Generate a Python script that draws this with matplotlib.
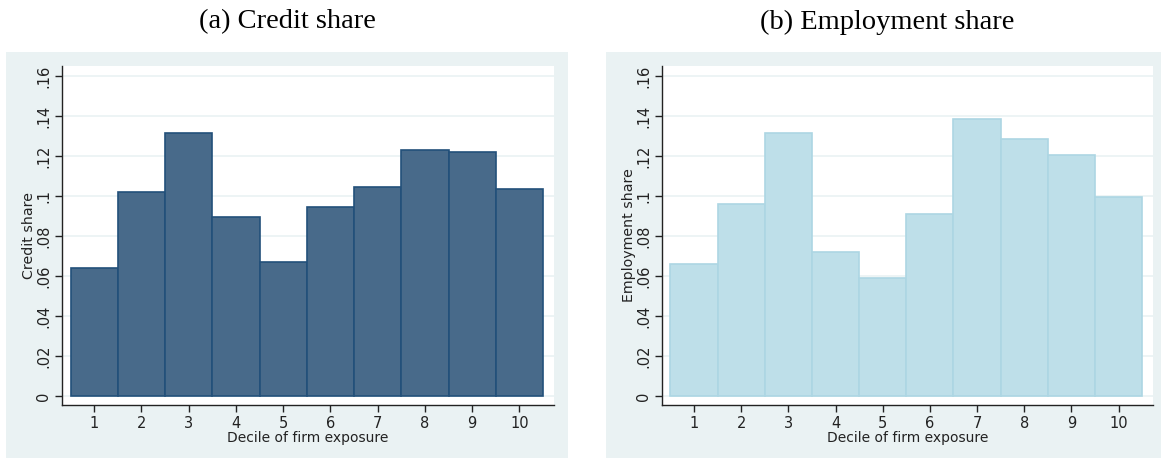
import matplotlib
matplotlib.use("Agg")
import matplotlib.pyplot as plt
from matplotlib.patches import Rectangle
from matplotlib.ticker import FuncFormatter

# data
deciles = [1, 2, 3, 4, 5, 6, 7, 8, 9, 10]
credit_share = [0.064, 0.102, 0.1315, 0.0895, 0.067, 0.0945, 0.1045, 0.123, 0.122, 0.1035]
employment_share = [0.066, 0.096, 0.1315, 0.072, 0.059, 0.091, 0.1385, 0.1285, 0.1205, 0.0995]
y_ticks = [0, 0.02, 0.04, 0.06, 0.08, 0.10, 0.12, 0.14, 0.16]

W, H = 1161, 458
BG = "#EAF2F3"


def stata_fmt(v, pos):
    s = f"{v:.2f}".rstrip("0").rstrip(".")
    if s.startswith("0."):
        s = s[1:]
    return s


fig = plt.figure(figsize=(W / 100, H / 100), dpi=100)
fig.patch.set_facecolor("white")

# outer panel backgrounds (Stata graph region)
for x0, x1 in [(6, 568), (606, 1161)]:
    fig.patches.append(Rectangle((x0 / W, 0), (x1 - x0) / W, (H - 52) / H,
                                 transform=fig.transFigure, facecolor=BG,
                                 edgecolor="none", zorder=-10))

panels = [
    (62, 554, credit_share, "#486A8A", "#22507A", "Credit share", "(a) Credit share", 287),
    (662, 1153, employment_share, "#BEDFE9", "#ADD6E3", "Employment share", "(b) Employment share", 887),
]

for x0, x1, vals, fill, edge, ylab, title, tx in panels:
    ax = fig.add_axes([x0 / W, (H - 405) / H, (x1 - x0) / W, (405 - 66) / H])
    ax.set_zorder(1)
    ax.set_facecolor("white")
    ax.bar(deciles, vals, width=1.0, color=fill, edgecolor=edge, linewidth=1.2, zorder=3)
    ax.set_xlim(0.32, 10.73)
    ax.set_ylim(-0.0045, 0.165)
    ax.set_xticks(deciles)
    ax.set_yticks(y_ticks)
    ax.yaxis.set_major_formatter(FuncFormatter(stata_fmt))
    ax.grid(axis="y", color=BG, linewidth=1.2, zorder=1)
    ax.set_axisbelow(True)
    for s in ["top", "right"]:
        ax.spines[s].set_visible(False)
    for s in ["left", "bottom"]:
        ax.spines[s].set_color("#222222")
        ax.spines[s].set_linewidth(1.0)
    ax.tick_params(axis="both", length=5, width=1.0, color="#222222",
                   labelsize=10.5, labelcolor="#222222", pad=3)
    plt.setp(ax.get_yticklabels(), rotation=90, va="center")
    ax.set_xlabel("Decile of firm exposure", fontsize=10, color="#222222", labelpad=0)
    ax.set_ylabel(ylab, fontsize=10.2, color="#222222", labelpad=0)
    fig.text(tx / W, 1 - 22 / H, title, ha="center", va="center",
             fontsize=20.5, family=["Liberation Serif", "DejaVu Serif"])

fig.savefig("out.png", dpi=100, facecolor="white")
